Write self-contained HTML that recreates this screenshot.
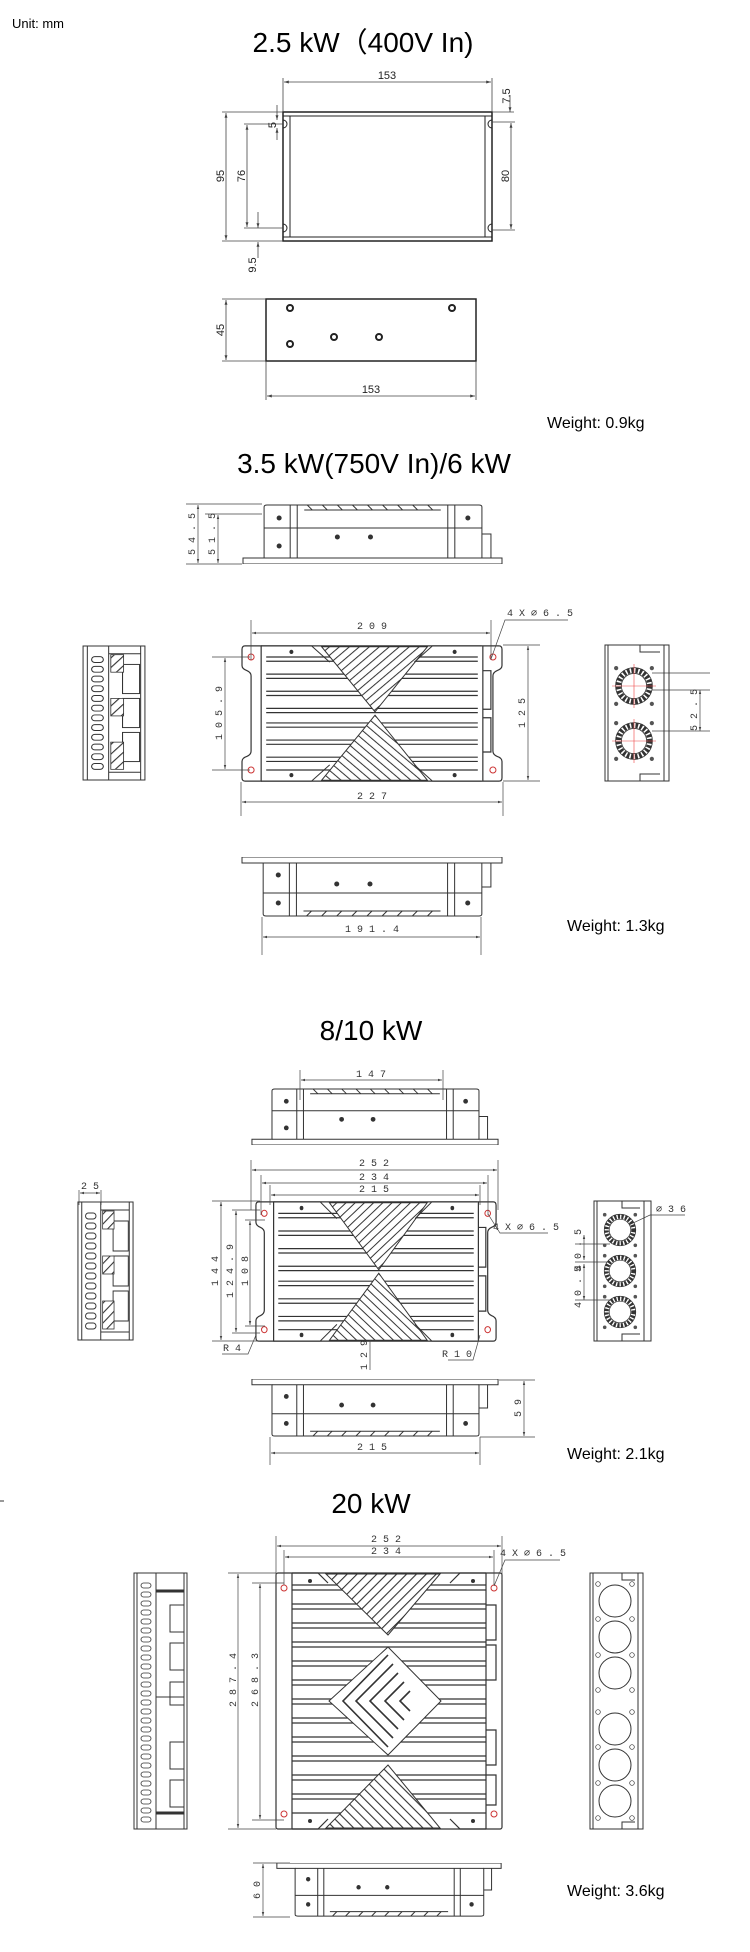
<!DOCTYPE html>
<html><head><meta charset="utf-8"><style>
html,body{margin:0;padding:0;background:#fff;}
svg{display:block;}
.t{font-family:"Liberation Sans",sans-serif;fill:#000;}
.d{font-family:"Liberation Mono",monospace;font-size:10px;fill:#333;}
.n{font-family:"Liberation Sans",sans-serif;font-size:11px;fill:#222;}
</style></head><body>
<svg width="750" height="1952" viewBox="0 0 750 1952" xmlns="http://www.w3.org/2000/svg">
<defs>
<marker id="a" viewBox="0 0 10 10" refX="10" refY="5" markerWidth="6" markerHeight="6" orient="auto-start-reverse"><path d="M0,2 L10,5 L0,8z" fill="#444"/></marker>
<pattern id="h" patternUnits="userSpaceOnUse" width="7" height="7" patternTransform="rotate(45)"><rect width="7" height="7" fill="#fff"/><line x1="0" y1="0" x2="0" y2="7" stroke="#333" stroke-width="2.2"/></pattern>
<pattern id="h2" patternUnits="userSpaceOnUse" width="7" height="7" patternTransform="rotate(-45)"><rect width="7" height="7" fill="#fff"/><line x1="0" y1="0" x2="0" y2="7" stroke="#333" stroke-width="2.2"/></pattern>

<symbol id="hs" viewBox="0 0 260 160" preserveAspectRatio="none">
 <g fill="none" stroke="#333" stroke-width="1.2">
 <path d="M20,1 H239 M20,159 H239" vector-effect="non-scaling-stroke"/>
 <path d="M4,1 H20 V159 H4 Q1,159 1,155 V136 Q1,132 6,130 Q10,128 10,124 V36 Q10,32 6,30 Q1,28 1,24 V5 Q1,1 4,1z" vector-effect="non-scaling-stroke"/>
 <path d="M256,1 H240 V159 H256 Q259,159 259,155 V136 Q259,132 254,130 Q250,128 250,124 V36 Q250,32 254,30 Q259,28 259,24 V5 Q259,1 256,1z" vector-effect="non-scaling-stroke"/>
 <path d="M25,14 H235 M25,19 H235 M25,34 H235 M25,39 H235 M25,54 H235 M25,59 H235 M25,74 H235 M25,79 H235 M25,91 H235 M25,96 H235 M25,111 H235 M25,116 H235 M25,131 H235 M25,136 H235 M25,146 H235" vector-effect="non-scaling-stroke"/>
 <path d="M240,30 H248 V75 H240 M240,85 H248 V125 H240" vector-effect="non-scaling-stroke"/>
 </g>
 <path d="M80,2 L185,2 L133,78z" fill="url(#h)" stroke="#333" vector-effect="non-scaling-stroke"/>
 <path d="M80,158 L185,158 L133,82z" fill="url(#h2)" stroke="#333" vector-effect="non-scaling-stroke"/>
 <path d="M20,1 L70,1 L88,20 M240,1 L190,1 L172,20 M20,159 L70,159 L88,140 M240,159 L190,159 L172,140" fill="none" stroke="#333" vector-effect="non-scaling-stroke"/>
 <g fill="#fff" stroke="#c33" stroke-width="1">
 <ellipse cx="10" cy="14" rx="3" ry="3.5" vector-effect="non-scaling-stroke"/><ellipse cx="250" cy="14" rx="3" ry="3.5" vector-effect="non-scaling-stroke"/><ellipse cx="10" cy="146" rx="3" ry="3.5" vector-effect="non-scaling-stroke"/><ellipse cx="250" cy="146" rx="3" ry="3.5" vector-effect="non-scaling-stroke"/></g>
 <g fill="#333"><ellipse cx="50" cy="8" rx="2" ry="2.5"/><ellipse cx="212" cy="8" rx="2" ry="2.5"/><ellipse cx="50" cy="152" rx="2" ry="2.5"/><ellipse cx="212" cy="152" rx="2" ry="2.5"/></g>
</symbol>

<symbol id="sv" viewBox="0 0 260 60" preserveAspectRatio="none">
 <g fill="none" stroke="#333" stroke-width="1">
 <path d="M1,60 V54 H22 V3 Q22,1 25,1 H236 Q239,1 239,3 V54 H259 V60 H1z" vector-effect="non-scaling-stroke"/>
 <path d="M22,24 H239 M48,1 V54 M55,1 V54 M205,1 V54 M212,1 V54 M22,54 H239 M62,6 H198 M239,30 H248 V54" vector-effect="non-scaling-stroke"/>
 <path d="M65,1 L70,6 M80,1 L85,6 M95,1 L100,6 M110,1 L115,6 M125,1 L130,6 M140,1 L145,6 M155,1 L160,6 M170,1 L175,6 M185,1 L190,6" vector-effect="non-scaling-stroke"/>
 </g>
 <g fill="#333"><circle cx="37" cy="14" r="2.5"/><circle cx="225" cy="14" r="2.5"/><circle cx="37" cy="42" r="2.5"/><circle cx="95" cy="33" r="2.5"/><circle cx="128" cy="33" r="2.5"/></g>
</symbol>

<symbol id="evl" viewBox="0 0 60 140" preserveAspectRatio="none">
 <g fill="none" stroke="#333" stroke-width="1">
 <rect x="1" y="1" width="58" height="138" vector-effect="non-scaling-stroke"/>
 <path d="M5,1 V139 M25,1 V139 M55,1 V139 M25,9 H55 M25,131 H55" vector-effect="non-scaling-stroke"/>
 <rect x="9" y="12" width="11" height="6" rx="3"/><rect x="9" y="22" width="11" height="6" rx="3"/><rect x="9" y="32" width="11" height="6" rx="3"/><rect x="9" y="42" width="11" height="6" rx="3"/><rect x="9" y="52" width="11" height="6" rx="3"/><rect x="9" y="62" width="11" height="6" rx="3"/><rect x="9" y="72" width="11" height="6" rx="3"/><rect x="9" y="82" width="11" height="6" rx="3"/><rect x="9" y="92" width="11" height="6" rx="3"/><rect x="9" y="102" width="11" height="6" rx="3"/><rect x="9" y="112" width="11" height="6" rx="3"/><rect x="9" y="122" width="11" height="6" rx="3"/>
 <rect x="38" y="20" width="16" height="30"/><rect x="38" y="55" width="16" height="30"/><rect x="38" y="90" width="16" height="30"/>
 </g>
 <g fill="url(#h)" stroke="#333" stroke-width="0.8"><rect x="27" y="10" width="12" height="18"/><rect x="27" y="55" width="12" height="18"/><rect x="27" y="100" width="12" height="28"/></g>
</symbol>

<symbol id="fan" viewBox="0 0 40 40">
 <circle cx="20" cy="20" r="15" fill="none" stroke="#333" stroke-width="5" stroke-dasharray="2.5 1.5"/>
 <circle cx="20" cy="20" r="17.5" fill="none" stroke="#333" stroke-width="0.8"/>
 <circle cx="20" cy="20" r="12" fill="#fff" stroke="#333" stroke-width="0.8"/>
 <g fill="#555"><circle cx="3" cy="3" r="2"/><circle cx="37" cy="3" r="2"/><circle cx="3" cy="37" r="2"/><circle cx="37" cy="37" r="2"/></g>
</symbol>
</defs>

<!-- ===== Section 1 ===== -->
<text class="t" x="12" y="28" font-size="13">Unit: mm</text>
<text class="t" x="363" y="52" font-size="28" text-anchor="middle">2.5 kW（400V In)</text>
<g fill="none" stroke="#222" stroke-width="1">
 <rect x="283" y="112" width="209" height="129" stroke-width="1.5"/>
 <path d="M283,116 H492 M283,237 H492 M290,116 V237 M485,116 V237"/>
 <path d="M283,120 a4,4 0 0 1 0,8 M283,224 a4,4 0 0 1 0,8 M492,120 a4,4 0 0 0 0,8 M492,224 a4,4 0 0 0 0,8"/>
</g>
<g stroke="#444" stroke-width="0.8" fill="none">
 <path d="M283,78 V112 M492,78 V112"/>
 <line x1="284" y1="82" x2="491" y2="82" marker-start="url(#a)" marker-end="url(#a)"/>
 <path d="M492,112 H514"/><line x1="510" y1="95" x2="510" y2="112" marker-end="url(#a)"/>
 <path d="M222,112 H283 M222,241 H283"/><line x1="226" y1="113" x2="226" y2="240" marker-start="url(#a)" marker-end="url(#a)"/>
 <path d="M244,124 H283 M244,228 H283"/><line x1="247" y1="125" x2="247" y2="227" marker-start="url(#a)" marker-end="url(#a)"/>
 <line x1="277" y1="105" x2="277" y2="120" marker-end="url(#a)"/><line x1="277" y1="140" x2="277" y2="128" marker-end="url(#a)"/>
 <path d="M492,122 H515 M492,230 H515"/><line x1="511" y1="123" x2="511" y2="229" marker-start="url(#a)" marker-end="url(#a)"/>
 <line x1="258" y1="212" x2="258" y2="228" marker-end="url(#a)"/><line x1="258" y1="258" x2="258" y2="242" marker-end="url(#a)"/>
</g>
<text class="n" x="387" y="79" text-anchor="middle">153</text>
<text class="n" transform="translate(510,96) rotate(-90)" text-anchor="middle">7.5</text>
<text class="n" transform="translate(224,176) rotate(-90)" text-anchor="middle" font-size="13">95</text>
<text class="n" transform="translate(245,176) rotate(-90)" text-anchor="middle" font-size="13">76</text>
<text class="n" transform="translate(276,125) rotate(-90)" text-anchor="middle">5</text>
<text class="n" transform="translate(509,176) rotate(-90)" text-anchor="middle">80</text>
<text class="n" transform="translate(256,265) rotate(-90)" text-anchor="middle">9.5</text>
<rect x="266" y="299" width="210" height="62" fill="none" stroke="#222" stroke-width="1.5"/>
<g fill="#fff" stroke="#222" stroke-width="2"><circle cx="290" cy="308" r="3"/><circle cx="452" cy="308" r="3"/><circle cx="290" cy="344" r="3"/><circle cx="334" cy="337" r="3"/><circle cx="379" cy="337" r="3"/></g>
<g stroke="#444" stroke-width="0.8" fill="none">
 <path d="M222,299 H266 M222,361 H266"/><line x1="226" y1="300" x2="226" y2="360" marker-start="url(#a)" marker-end="url(#a)"/>
 <path d="M266,361 V400 M476,361 V400"/><line x1="267" y1="396" x2="475" y2="396" marker-start="url(#a)" marker-end="url(#a)"/>
</g>
<text class="n" transform="translate(224,330) rotate(-90)" text-anchor="middle" font-size="13">45</text>
<text class="n" x="371" y="393" text-anchor="middle">153</text>
<text class="t" x="547" y="428" font-size="16">Weight: 0.9kg</text>

<!-- ===== Section 2 ===== -->
<text class="t" x="374" y="473" font-size="28" text-anchor="middle">3.5 kW(750V In)/6 kW</text>
<use href="#sv" x="242" y="504" width="261" height="60"/>
<g stroke="#444" stroke-width="0.7" fill="none">
 <path d="M186,504 H262 M205,514 H262 M186,564 H242"/>
 <line x1="198" y1="505" x2="198" y2="563" marker-start="url(#a)" marker-end="url(#a)"/>
 <line x1="218" y1="515" x2="218" y2="563" marker-start="url(#a)" marker-end="url(#a)"/>
</g>
<text class="d" transform="translate(195,534) rotate(-90)" text-anchor="middle">5 4 . 5</text>
<text class="d" transform="translate(215,534) rotate(-90)" text-anchor="middle">5 1 . 5</text>

<use href="#hs" x="241" y="645" width="262" height="137"/>
<g stroke="#444" stroke-width="0.7" fill="none">
 <path d="M251,620 V660 M491,620 V660"/>
 <line x1="252" y1="633" x2="490" y2="633" marker-start="url(#a)" marker-end="url(#a)"/>
 <path d="M491,659 L505,620 H568"/>
 <path d="M212,657 H250 M212,770 H250"/><line x1="225" y1="658" x2="225" y2="769" marker-start="url(#a)" marker-end="url(#a)"/>
 <path d="M503,645 H540 M503,781 H540"/><line x1="528" y1="646" x2="528" y2="780" marker-start="url(#a)" marker-end="url(#a)"/>
 <path d="M241,782 V816 M503,782 V816"/><line x1="242" y1="802" x2="502" y2="802" marker-start="url(#a)" marker-end="url(#a)"/>
 <path d="M652,690 H710 M652,673 H710"/><line x1="700" y1="690" x2="700" y2="731" marker-start="url(#a)" marker-end="url(#a)"/>
 <path d="M652,731 H710"/>
</g>
<text class="d" x="372" y="629" text-anchor="middle">2 0 9</text>
<text class="d" x="540" y="616" text-anchor="middle">4 X ⌀ 6 . 5</text>
<text class="d" transform="translate(222,713) rotate(-90)" text-anchor="middle">1 0 5 . 9</text>
<text class="d" transform="translate(525,713) rotate(-90)" text-anchor="middle">1 2 5</text>
<text class="d" x="372" y="799" text-anchor="middle">2 2 7</text>
<text class="d" transform="translate(697,710) rotate(-90)" text-anchor="middle">5 2 . 5</text>
<use href="#evl" x="82" y="645" width="64" height="136"/>
<g fill="none" stroke="#333" stroke-width="1">
 <rect x="605" y="645" width="64" height="136"/><path d="M664,645 V781 M608,645 V781 M640,645 V652 H660 M640,781 V774 H660"/>
</g>
<use href="#fan" x="613" y="665" width="42" height="42"/>
<use href="#fan" x="613" y="720" width="42" height="42"/>
<g stroke="#e44" stroke-width="0.6"><path d="M612,686 H656 M634,664 V708 M612,741 H656 M634,719 V763"/></g>

<use href="#sv" x="241" y="857" width="262" height="60" transform="translate(0,1774) scale(1,-1)"/>
<g stroke="#444" stroke-width="0.7" fill="none">
 <path d="M262,917 V955 M481,917 V955"/><line x1="263" y1="937" x2="480" y2="937" marker-start="url(#a)" marker-end="url(#a)"/>
</g>
<text class="d" x="372" y="932" text-anchor="middle">1 9 1 . 4</text>
<text class="t" x="567" y="931" font-size="16">Weight: 1.3kg</text>

<!-- ===== Section 3 ===== -->
<text class="t" x="371" y="1040" font-size="28" text-anchor="middle">8/10 kW</text>
<use href="#sv" x="251" y="1088" width="248" height="57"/>
<g stroke="#444" stroke-width="0.7" fill="none">
 <path d="M300,1070 V1100 M443,1070 V1100"/><line x1="301" y1="1080" x2="442" y2="1080" marker-start="url(#a)" marker-end="url(#a)"/>
</g>
<text class="d" x="371" y="1077" text-anchor="middle">1 4 7</text>
<use href="#hs" x="255" y="1201" width="242" height="141"/>
<g stroke="#444" stroke-width="0.7" fill="none">
 <path d="M251,1160 V1210 M498,1160 V1210 M261,1175 V1215 M488,1175 V1215 M270,1185 V1205 M480,1185 V1205"/>
 <line x1="252" y1="1170" x2="497" y2="1170" marker-start="url(#a)" marker-end="url(#a)"/>
 <line x1="262" y1="1183" x2="487" y2="1183" marker-start="url(#a)" marker-end="url(#a)"/>
 <line x1="271" y1="1195" x2="479" y2="1195" marker-start="url(#a)" marker-end="url(#a)"/>
 <path d="M212,1201 H260 M212,1341 H260 M232,1210 H260 M232,1333 H260 M245,1220 H265 M245,1326 H265"/>
 <line x1="221" y1="1202" x2="221" y2="1340" marker-start="url(#a)" marker-end="url(#a)"/>
 <line x1="236" y1="1211" x2="236" y2="1332" marker-start="url(#a)" marker-end="url(#a)"/>
 <line x1="250" y1="1221" x2="250" y2="1325" marker-start="url(#a)" marker-end="url(#a)"/>
 <path d="M488,1214 L500,1233 H548 M222,1354 H248 L256,1335 M448,1360 H473 L480,1335 M370,1340 V1370"/>
 <path d="M79,1190 V1205 M101,1190 V1205"/><line x1="80" y1="1193" x2="100" y2="1193" marker-start="url(#a)" marker-end="url(#a)"/>
 <path d="M575,1244 H610 M575,1262 H610 M575,1300 H610 M612,1233 L650,1215 H685"/>
 <line x1="584" y1="1235" x2="584" y2="1260" marker-start="url(#a)" marker-end="url(#a)"/>
 <line x1="584" y1="1264" x2="584" y2="1300" marker-start="url(#a)" marker-end="url(#a)"/>
</g>
<text class="d" x="374" y="1166" text-anchor="middle">2 5 2</text>
<text class="d" x="374" y="1180" text-anchor="middle">2 3 4</text>
<text class="d" x="374" y="1192" text-anchor="middle">2 1 5</text>
<text class="d" transform="translate(218,1271) rotate(-90)" text-anchor="middle">1 4 4</text>
<text class="d" transform="translate(233,1271) rotate(-90)" text-anchor="middle">1 2 4 . 9</text>
<text class="d" transform="translate(248,1271) rotate(-90)" text-anchor="middle">1 0 8</text>
<text class="d" x="526" y="1230" text-anchor="middle">4 X ⌀ 6 . 5</text>
<text class="d" x="232" y="1351" text-anchor="middle">R 4</text>
<text class="d" x="457" y="1357" text-anchor="middle">R 1 0</text>
<text class="d" transform="translate(367,1355) rotate(-90)" text-anchor="middle">1 2 9</text>
<text class="d" x="90" y="1189" text-anchor="middle">2 5</text>
<text class="d" x="671" y="1212" text-anchor="middle">⌀ 3 6</text>
<text class="d" transform="translate(581,1250) rotate(-90)" text-anchor="middle">4 0 . 5</text>
<text class="d" transform="translate(581,1287) rotate(-90)" text-anchor="middle">4 0 . 5</text>
<use href="#evl" x="77" y="1201" width="57" height="140"/>
<g fill="none" stroke="#333" stroke-width="1">
 <rect x="594" y="1201" width="57" height="140"/><path d="M644,1201 V1341 M597,1201 V1341 M622,1201 V1208 H640 M622,1341 V1334 H640"/>
</g>
<use href="#fan" x="602" y="1212" width="36" height="36"/>
<use href="#fan" x="602" y="1253" width="36" height="36"/>
<use href="#fan" x="602" y="1294" width="36" height="36"/>
<use href="#sv" x="251" y="1379" width="248" height="58" transform="translate(0,2816) scale(1,-1)"/>
<g stroke="#444" stroke-width="0.7" fill="none">
 <path d="M499,1380 H535 M480,1437 H535"/><line x1="524" y1="1381" x2="524" y2="1436" marker-start="url(#a)" marker-end="url(#a)"/>
 <path d="M270,1437 V1465 M480,1437 V1465"/><line x1="271" y1="1453" x2="479" y2="1453" marker-start="url(#a)" marker-end="url(#a)"/>
</g>
<text class="d" transform="translate(521,1408) rotate(-90)" text-anchor="middle">5 9</text>
<text class="d" x="372" y="1450" text-anchor="middle">2 1 5</text>
<text class="t" x="567" y="1459" font-size="16">Weight: 2.1kg</text>

<!-- ===== Section 4 ===== -->
<path d="M0,1501 H4" stroke="#333"/>
<text class="t" x="371" y="1513" font-size="28" text-anchor="middle">20 kW</text>
<g fill="none" stroke="#333" stroke-width="1.2">
 <rect x="276" y="1573" width="226" height="256" rx="2"/>
 <path d="M292,1573 V1829 M486,1573 V1829"/>
 <path d="M292,1585 H486 M292,1590 H486 M292,1604 H486 M292,1609 H486 M292,1623 H486 M292,1628 H486 M292,1642 H486 M292,1647 H486 M292,1661 H486 M292,1666 H486 M292,1680 H486 M292,1685 H486 M292,1699 H486 M292,1704 H486 M292,1718 H486 M292,1723 H486 M292,1737 H486 M292,1742 H486 M292,1756 H486 M292,1761 H486 M292,1775 H486 M292,1780 H486 M292,1794 H486 M292,1799 H486 M292,1813 H486"/>
 <path d="M486,1605 H496 V1640 H486 M486,1645 H496 V1680 H486 M486,1730 H496 V1765 H486 M486,1775 H496 V1805 H486"/>
 <path d="M292,1573 H318 L328,1583 M486,1573 H460 L450,1583 M292,1829 H318 L328,1819 M486,1829 H460 L450,1819"/>
</g>
<path d="M326,1574 L440,1574 L388,1635z" fill="url(#h)" stroke="#333"/>
<path d="M388,1647 L441,1701 L388,1755 L329,1701z" fill="#fff" stroke="#333"/>
<g fill="none" stroke="#333" stroke-width="1.6">
 <path d="M388,1655 L343,1701 L388,1747"/>
 <path d="M393,1664 L356,1701 L393,1738"/>
 <path d="M398,1673 L370,1701 L398,1729"/>
 <path d="M404,1682 L385,1701 L404,1720"/>
 <path d="M410,1691 L400,1701 L410,1711"/>
</g>
<path d="M326,1828 L440,1828 L388,1765z" fill="url(#h2)" stroke="#333"/>
<g fill="#fff" stroke="#c33" stroke-width="1"><circle cx="284" cy="1588" r="3"/><circle cx="494" cy="1588" r="3"/><circle cx="284" cy="1814" r="3"/><circle cx="494" cy="1814" r="3"/></g>
<g fill="#333"><circle cx="310" cy="1581" r="2"/><circle cx="473" cy="1581" r="2"/><circle cx="310" cy="1821" r="2"/><circle cx="473" cy="1821" r="2"/></g>
<g stroke="#444" stroke-width="0.7" fill="none">
 <path d="M276,1536 V1580 M502,1536 V1580 M284,1550 V1585 M494,1550 V1585"/>
 <line x1="277" y1="1546" x2="501" y2="1546" marker-start="url(#a)" marker-end="url(#a)"/>
 <line x1="285" y1="1557" x2="493" y2="1557" marker-start="url(#a)" marker-end="url(#a)"/>
 <path d="M494,1586 L505,1560 H560"/>
 <path d="M228,1573 H276 M228,1829 H276 M252,1583 H284 M252,1820 H284"/>
 <line x1="238" y1="1574" x2="238" y2="1828" marker-start="url(#a)" marker-end="url(#a)"/>
 <line x1="260" y1="1584" x2="260" y2="1819" marker-start="url(#a)" marker-end="url(#a)"/>
</g>
<text class="d" x="386" y="1542" text-anchor="middle">2 5 2</text>
<text class="d" x="386" y="1554" text-anchor="middle">2 3 4</text>
<text class="d" x="533" y="1556" text-anchor="middle">4 X ⌀ 6 . 5</text>
<text class="d" transform="translate(236,1680) rotate(-90)" text-anchor="middle">2 8 7 . 4</text>
<text class="d" transform="translate(258,1680) rotate(-90)" text-anchor="middle">2 6 8 . 3</text>
<!-- left end view -->
<g fill="none" stroke="#333" stroke-width="1">
 <rect x="134" y="1573" width="53" height="256"/>
 <path d="M137,1573 V1829 M156,1573 V1829 M184,1573 V1829 M156,1697 H184"/>
 <path d="M156,1591 H184 M156,1813 H184" stroke-width="3"/>
 <path d="M170,1605 H184 V1632 H170z M170,1643 H184 V1670 H170z M170,1682 H184 V1705 H170z M170,1742 H184 V1769 H170z M170,1780 H184 V1807 H170z"/>
</g>
<g fill="none" stroke="#333" stroke-width="0.8">
 <rect x="141" y="1583" width="10" height="5" rx="2.5"/><rect x="141" y="1592" width="10" height="5" rx="2.5"/><rect x="141" y="1601" width="10" height="5" rx="2.5"/><rect x="141" y="1610" width="10" height="5" rx="2.5"/><rect x="141" y="1619" width="10" height="5" rx="2.5"/><rect x="141" y="1628" width="10" height="5" rx="2.5"/><rect x="141" y="1637" width="10" height="5" rx="2.5"/><rect x="141" y="1646" width="10" height="5" rx="2.5"/><rect x="141" y="1655" width="10" height="5" rx="2.5"/><rect x="141" y="1664" width="10" height="5" rx="2.5"/><rect x="141" y="1673" width="10" height="5" rx="2.5"/><rect x="141" y="1682" width="10" height="5" rx="2.5"/><rect x="141" y="1691" width="10" height="5" rx="2.5"/><rect x="141" y="1700" width="10" height="5" rx="2.5"/><rect x="141" y="1709" width="10" height="5" rx="2.5"/><rect x="141" y="1718" width="10" height="5" rx="2.5"/><rect x="141" y="1727" width="10" height="5" rx="2.5"/><rect x="141" y="1736" width="10" height="5" rx="2.5"/><rect x="141" y="1745" width="10" height="5" rx="2.5"/><rect x="141" y="1754" width="10" height="5" rx="2.5"/><rect x="141" y="1763" width="10" height="5" rx="2.5"/><rect x="141" y="1772" width="10" height="5" rx="2.5"/><rect x="141" y="1781" width="10" height="5" rx="2.5"/><rect x="141" y="1790" width="10" height="5" rx="2.5"/><rect x="141" y="1799" width="10" height="5" rx="2.5"/><rect x="141" y="1808" width="10" height="5" rx="2.5"/><rect x="141" y="1817" width="10" height="5" rx="2.5"/>
</g>
<!-- right end view -->
<g fill="none" stroke="#333" stroke-width="1">
 <rect x="590" y="1573" width="53" height="256"/>
 <path d="M593,1573 V1829 M638,1573 V1829 M622,1573 V1580 H635 M622,1829 V1822 H635"/>
 <circle cx="615" cy="1601" r="16"/><circle cx="615" cy="1637" r="16"/><circle cx="615" cy="1673" r="16"/>
 <circle cx="615" cy="1729" r="16"/><circle cx="615" cy="1765" r="16"/><circle cx="615" cy="1801" r="16"/>
</g>
<g fill="none" stroke="#333" stroke-width="0.7">
 <circle cx="598" cy="1584" r="2.3"/><circle cx="632" cy="1584" r="2.3"/><circle cx="598" cy="1619" r="2.3"/><circle cx="632" cy="1619" r="2.3"/>
 <circle cx="598" cy="1655" r="2.3"/><circle cx="632" cy="1655" r="2.3"/><circle cx="598" cy="1690" r="2.3"/><circle cx="632" cy="1690" r="2.3"/>
 <circle cx="598" cy="1712" r="2.3"/><circle cx="632" cy="1712" r="2.3"/><circle cx="598" cy="1747" r="2.3"/><circle cx="632" cy="1747" r="2.3"/>
 <circle cx="598" cy="1783" r="2.3"/><circle cx="632" cy="1783" r="2.3"/><circle cx="598" cy="1818" r="2.3"/><circle cx="632" cy="1818" r="2.3"/>
</g>
<!-- bottom view -->
<use href="#sv" x="276" y="1863" width="226" height="54" transform="translate(0,3780) scale(1,-1)"/>
<g stroke="#444" stroke-width="0.7" fill="none">
 <path d="M253,1863 H290 M253,1917 H290"/><line x1="263" y1="1864" x2="263" y2="1916" marker-start="url(#a)" marker-end="url(#a)"/>
</g>
<text class="d" transform="translate(260,1890) rotate(-90)" text-anchor="middle">6 0</text>
<text class="t" x="567" y="1896" font-size="16">Weight: 3.6kg</text>
</svg>
</body></html>
